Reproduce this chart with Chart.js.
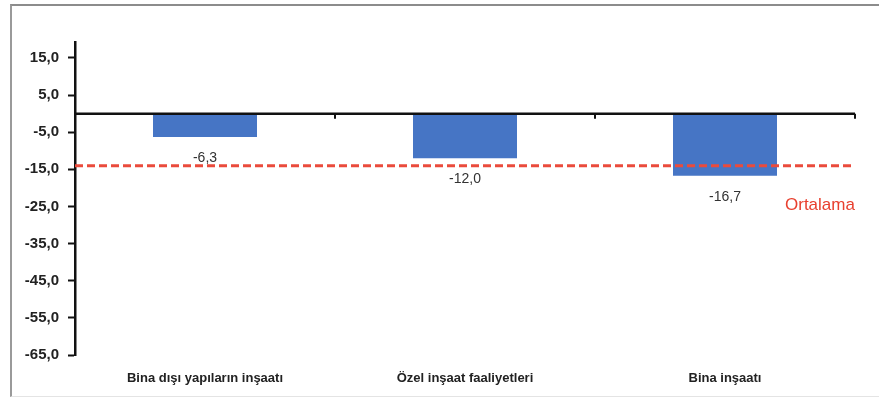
<!DOCTYPE html>
<html>
<head>
<meta charset="utf-8">
<script src="https://cdn.jsdelivr.net/npm/chart.js@4"></script>
<style>
    html, body { margin: 0; padding: 0; background: #fff; }
    #wrap { position: relative; width: 885px; height: 398px; }
    #frame {
        position: absolute; left: 10px; top: 4px; width: 867px; height: 390px;
        border-top: 2px solid #8c8c8c; border-left: 2px solid #9a9a9a;
        border-bottom: 1px solid #e4e4e4;
    }
    canvas { position: absolute; left: 0; top: 0; }
</style>
</head>
<body>
<div id="wrap">
    <div id="frame"></div>
    <canvas id="chart" width="885" height="398"></canvas>
</div>
<script>
const categories = ['Bina dışı yapıların inşaatı', 'Özel inşaat faaliyetleri', 'Bina inşaatı'];
const values = [-6.3, -12.0, -16.7];
const yTicks = [15, 5, -5, -15, -25, -35, -45, -55, -65];
const averageValue = -14.0;
const averageLabel = 'Ortalama';

const FONT = '"Liberation Sans", Arial, sans-serif';

function fmt(v) {
    return v.toFixed(1).replace('.', ',');
}

const overlay = {
    id: 'overlay',
    afterDatasetsDraw(chart) {
        const { ctx, chartArea, scales } = chart;
        const x = scales.x, y = scales.y;
        const y0 = y.getPixelForValue(0);
        const half = (x.getPixelForValue(1) - x.getPixelForValue(0)) / 2;

        ctx.save();
        // zero line with category boundary ticks
        ctx.strokeStyle = '#111';
        ctx.lineWidth = 2.5;
        ctx.beginPath();
        ctx.moveTo(chartArea.left, y0);
        ctx.lineTo(chartArea.right, y0);
        ctx.stroke();
        ctx.lineWidth = 2;
        for (let i = 0; i < categories.length; i++) {
            const bx = x.getPixelForValue(i) + half;
            ctx.beginPath();
            ctx.moveTo(bx, y0);
            ctx.lineTo(bx, y0 + 5);
            ctx.stroke();
        }

        // average line
        const ya = y.getPixelForValue(averageValue);
        ctx.strokeStyle = '#ea4b3c';
        ctx.lineWidth = 3;
        ctx.setLineDash([8, 4]);
        ctx.beginPath();
        ctx.moveTo(chartArea.left, ya);
        ctx.lineTo(chartArea.right, ya);
        ctx.stroke();
        ctx.setLineDash([]);

        // value labels
        ctx.fillStyle = '#333';
        ctx.font = '14px ' + FONT;
        ctx.textAlign = 'center';
        ctx.textBaseline = 'middle';
        chart.getDatasetMeta(0).data.forEach((bar, i) => {
            ctx.fillText(fmt(values[i]), bar.x, bar.y + 21);
        });

        // average label
        ctx.fillStyle = '#e8402f';
        ctx.font = '17px ' + FONT;
        ctx.textAlign = 'left';
        ctx.fillText(averageLabel, chartArea.right - 70, y.getPixelForValue(-24.7));
        ctx.restore();
    }
};

new Chart(document.getElementById('chart'), {
    type: 'bar',
    data: {
        labels: categories,
        datasets: [{
            data: values,
            backgroundColor: '#4675c5',
            borderWidth: 0,
            categoryPercentage: 1,
            barPercentage: 0.4
        }]
    },
    options: {
        responsive: false,
        animation: false,
        layout: { padding: { left: 0, top: 42, right: 30, bottom: 0 } },
        plugins: { legend: { display: false }, tooltip: { enabled: false } },
        scales: {
            x: {
                grid: { display: false, drawTicks: false },
                border: { display: false },
                ticks: {
                    padding: 16,
                    color: '#222',
                    font: { family: FONT, size: 13, weight: 'bold' }
                },
                afterFit(scale) { scale.height = 43; }
            },
            y: {
                min: -65,
                max: 19.3,
                afterBuildTicks(scale) {
                    scale.ticks = yTicks.map(v => ({ value: v }));
                },
                grid: { drawOnChartArea: false, tickLength: 7, tickColor: '#111', tickWidth: 2 },
                border: { color: '#111', width: 2.5 },
                ticks: {
                    padding: 9,
                    color: '#222',
                    font: { family: FONT, size: 15, weight: 'bold' },
                    callback: v => fmt(v)
                },
                afterFit(scale) { scale.width = 75; }
            }
        }
    },
    plugins: [overlay]
});
</script>
</body>
</html>
